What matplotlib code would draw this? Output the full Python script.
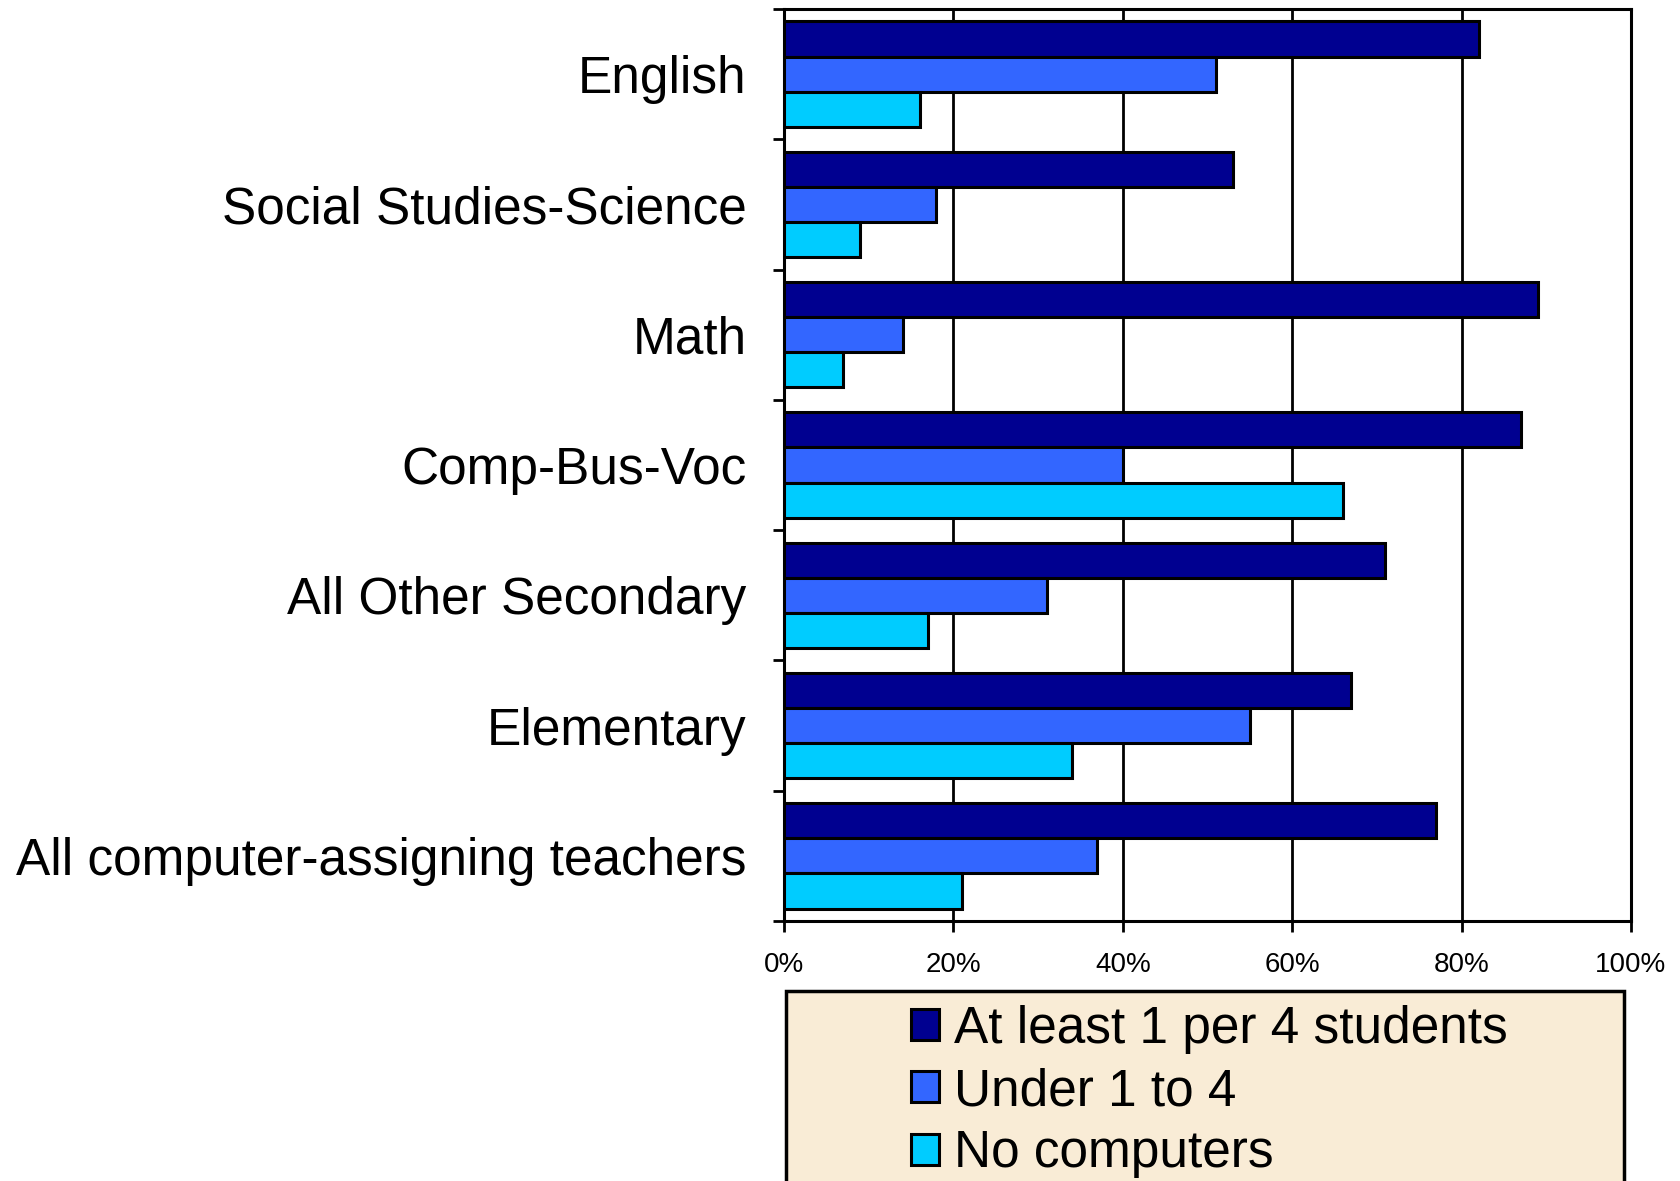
import matplotlib
matplotlib.use("Agg")
import matplotlib.pyplot as plt
import numpy as np
from matplotlib.patches import Rectangle

plt.rcParams['font.family'] = ['Liberation Sans', 'DejaVu Sans']

# categories, top to bottom
categories = ["English", "Social Studies-Science", "Math", "Comp-Bus-Voc",
              "All Other Secondary", "Elementary", "All computer-assigning teachers"]

series_names = ["At least 1 per 4 students", "Under 1 to 4", "No computers"]
at_least_1_per_4 = [82, 53, 89, 87, 71, 67, 77]
under_1_to_4 = [51, 18, 14, 40, 31, 55, 37]
no_computers = [16, 9, 7, 66, 17, 34, 21]

x_ticks = [0, 20, 40, 60, 80, 100]
x_tick_labels = ["0%", "20%", "40%", "60%", "80%", "100%"]

colors = ["#000090", "#3366FF", "#00CCFF"]

W, H = 1681, 1181
fig = plt.figure(figsize=(W / 100, H / 100), dpi=100)
ax = fig.add_axes([784 / W, 1 - 921 / H, (1631 - 784) / W, (921 - 9) / H])

y = np.arange(len(categories))
h = 0.27
series = [at_least_1_per_4, under_1_to_4, no_computers]
for i, (name, vals) in enumerate(zip(series_names, series)):
    ax.barh(y + (i - 1) * h, vals, h, color=colors[i], edgecolor="black",
            linewidth=2.2, label=name, zorder=3)

ax.set_xlim(0, 100)
ax.set_ylim(len(categories) - 0.5, -0.5)

# category labels at centers, ticks at boundaries
ax.set_yticks(y)
ax.set_yticklabels(categories, fontsize=37)
ax.tick_params(axis="y", which="major", length=0, pad=27)
ax.set_yticks(np.arange(len(categories) + 1) - 0.5, minor=True)
ax.tick_params(axis="y", which="minor", length=8, width=2, direction="out")

ax.set_xticks(x_ticks)
ax.set_xticklabels(x_tick_labels, fontsize=20)
ax.tick_params(axis="x", length=8, width=2, direction="out", pad=14)

ax.xaxis.grid(True, color="black", linewidth=2, zorder=0)
ax.set_axisbelow(True)
for s in ax.spines.values():
    s.set_linewidth(2.2)

# legend box
bg = Rectangle((786 / W, -0.05), (1624 - 786) / W, (1 - 991 / H) + 0.05,
               transform=fig.transFigure, facecolor="#F9ECD6",
               edgecolor="black", linewidth=2.5, zorder=0)
fig.patches.append(bg)

handles, labels = ax.get_legend_handles_labels()
leg = fig.legend(handles, labels, loc="upper left",
                 bbox_to_anchor=(885 / W, 1 - 979 / H), frameon=False,
                 fontsize=37, handlelength=0.55, handleheight=0.55,
                 handletextpad=0.3, labelspacing=0.26, borderpad=0)

fig.savefig("out.png", dpi=100)
